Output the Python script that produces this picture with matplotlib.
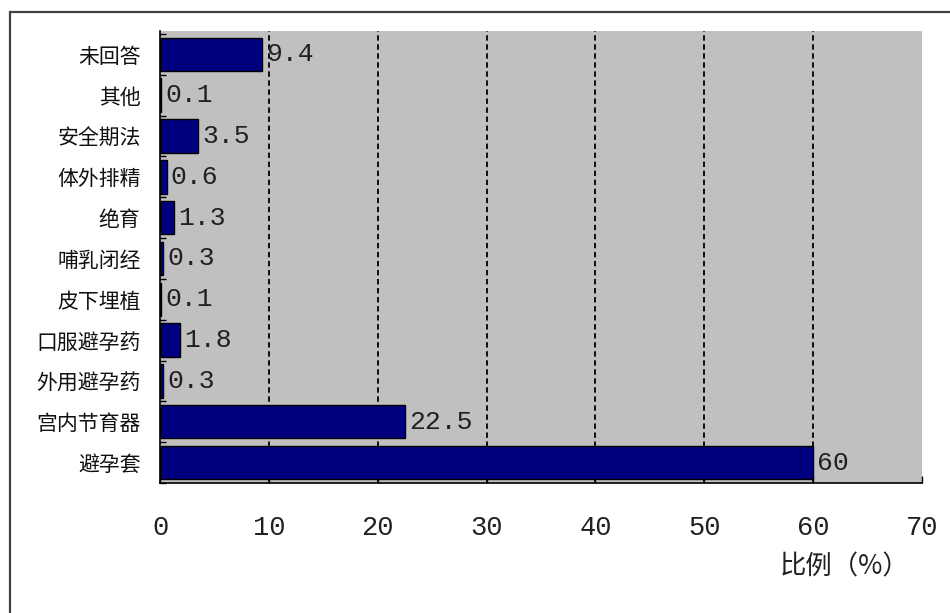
import matplotlib
matplotlib.use("Agg")
import matplotlib.pyplot as plt
from matplotlib.patches import Rectangle
import numpy as np

categories = ["避孕套", "宫内节育器", "外用避孕药", "口服避孕药", "皮下埋植",
              "哺乳闭经", "绝育", "体外排精", "安全期法", "其他", "未回答"]
values = [60, 22.5, 0.3, 1.8, 0.1, 0.3, 1.3, 0.6, 3.5, 0.1, 9.4]
xticks = [0, 10, 20, 30, 40, 50, 60, 70]
xlabel = "比例（%）"

plt.rcParams['font.family'] = ['Noto Sans CJK SC', 'DejaVu Sans']
mono = ["Liberation Mono", "DejaVu Sans Mono"]

fig = plt.figure(figsize=(9.5, 6.13), dpi=100)
fig.patch.set_facecolor("white")
fig.patches.append(Rectangle((10/950, -0.1), 1.2, 1 - 12/613 + 0.1,
                             transform=fig.transFigure, fill=False,
                             edgecolor="#404040", linewidth=1.6))

ax = fig.add_axes([160/950, 1 - 483/613, (922-160)/950, (483-31)/613])
ax.set_facecolor("#C0C0C0")

y = np.arange(len(categories))
ax.barh(y, values, height=0.82, color="#00007F", edgecolor="black", linewidth=1, zorder=3)

for yi, v in zip(y, values):
    ax.annotate(f"{v:g}", (v, yi), xytext=(3, 0), textcoords="offset points",
                va="center", ha="left", fontsize=19,
                family=mono, color="#202020", zorder=4)

ax.set_xlim(0, 70)
ax.set_ylim(-0.43, 10.57)
ax.set_xticks(xticks)
ax.set_xticklabels([str(t) for t in xticks], family=mono, fontsize=19.5, color="#202020")
ax.tick_params(axis="x", direction="in", length=5, width=1, pad=23, color="black")

ax.set_yticks(y)
ax.set_yticklabels(categories, fontsize=15, color="#101010")
ax.tick_params(axis="y", which="major", length=0, pad=14)
ax.set_yticks(np.arange(-0.5, len(categories), 1.0), minor=True)
ax.tick_params(axis="y", which="minor", direction="in", length=4, width=1, color="black")

for t in xticks[1:-1]:
    ax.axvline(t, color="black", linestyle=(0, (3, 2)), linewidth=1.3, zorder=2)

for s in ["top", "right"]:
    ax.spines[s].set_visible(False)
ax.spines["left"].set_color("black")
ax.spines["bottom"].set_color("black")
ax.spines["left"].set_linewidth(1.2)
ax.spines["bottom"].set_linewidth(1.2)

fig.text(845/950, 1 - 567/613, xlabel, ha="center", va="center", fontsize=19, color="#202020")

fig.savefig("out.png", dpi=100, facecolor="white")
